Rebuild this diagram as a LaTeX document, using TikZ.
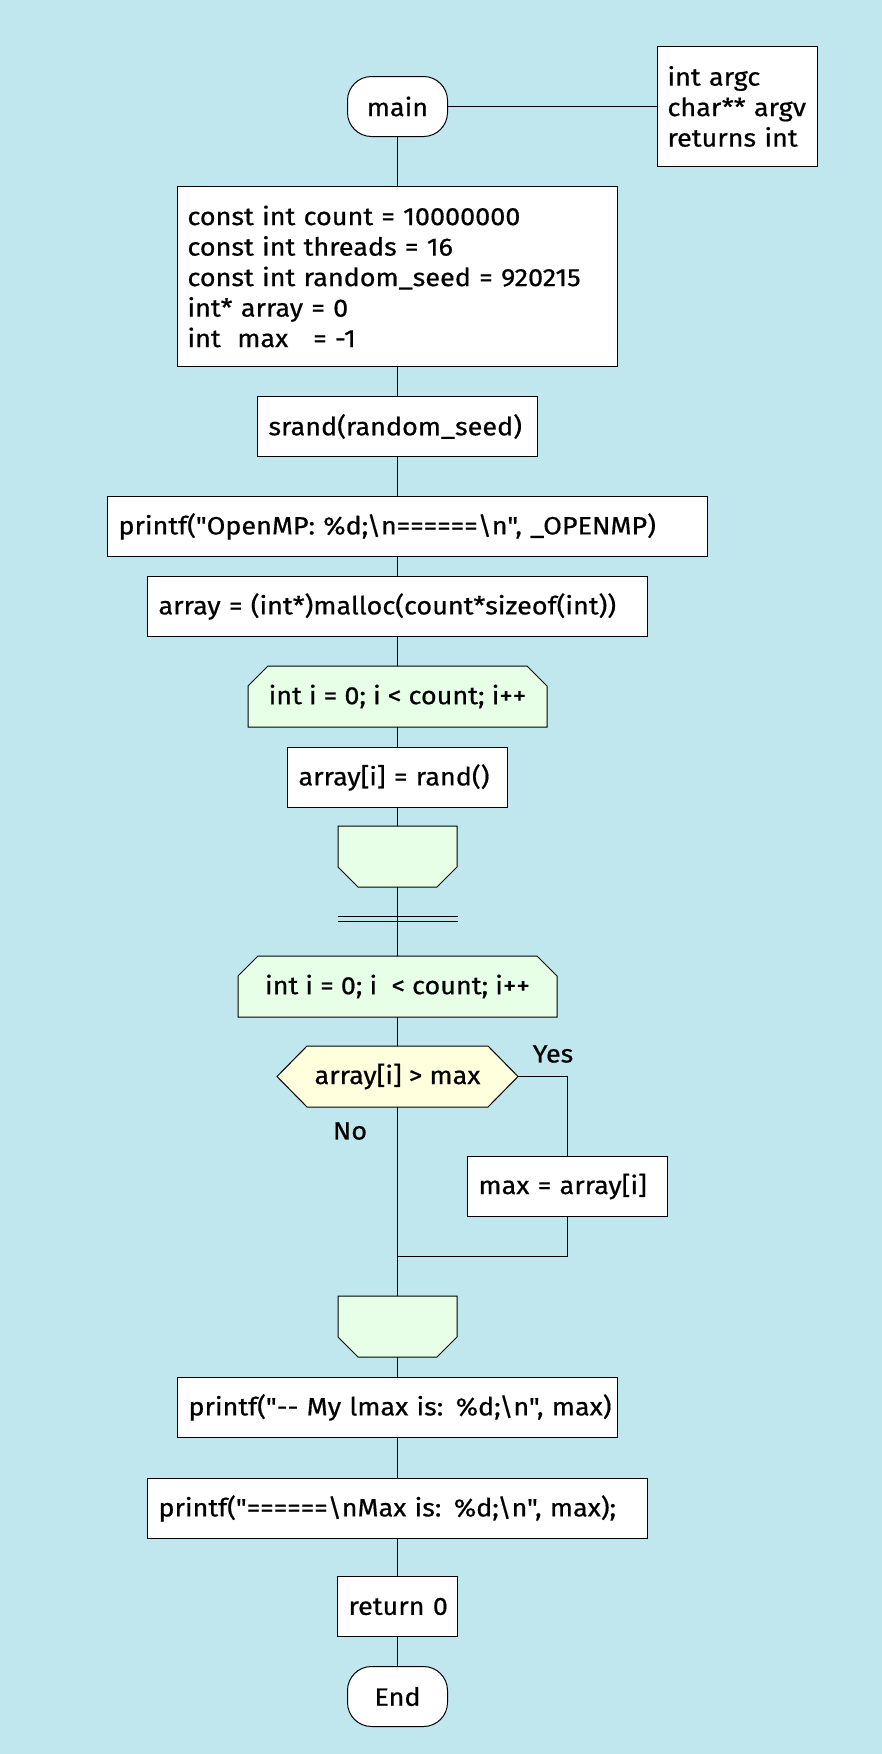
\documentclass[tikz,border=0pt]{standalone}
\usepackage{fontspec}
\setmainfont{Fira Sans}[Ligatures=TeXOff, FakeStretch=1.08, FakeBold=0.6]
\usetikzlibrary{calc, backgrounds}
\definecolor{canvasblue}{RGB}{192,230,238}
\definecolor{loopgreen}{RGB}{230,255,230}
\definecolor{testyellow}{RGB}{255,255,222}

\begin{document}
\begin{tikzpicture}[
    % Global Styles
    x=1pt, y=-1pt,
    font=\fontsize{25}{30.5}\selectfont,
    line width=1pt,
    % Node Styles
    terminal/.style={
        draw,
        fill=white,
        rounded corners=24pt,
        minimum width=100pt,
        minimum height=60pt,
        inner sep=0pt
    },
    process/.style={
        draw,
        fill=white,
        align=left,
        minimum height=60pt,
        inner xsep=11pt,
        inner ysep=0pt,
        execute at begin node=\hbox\bgroup,
        execute at end node=\egroup
    },
    listing/.style={
        draw,
        fill=white,
        align=left,
        inner sep=10pt
    },
    loopbox/.style={
        minimum height=60pt,
        inner sep=0pt
    },
    testbox/.style={
        minimum width=240pt,
        minimum height=60pt,
        inner sep=0pt
    },
    answer/.style={
        inner sep=0pt
    },
    loopshape/.style={
        draw=black,
        line width=1pt,
        fill=loopgreen
    },
    testshape/.style={
        draw=black,
        line width=1pt,
        fill=testyellow
    }
]

    % --- Start ---
    \node[terminal] (main) at (397.5,106.5) {main};
    \node[listing, text width=140pt, minimum height=120pt] (args) at (737.5,106.5) {
        int argc\\
        char** argv\\
        returns int
    };

    % --- Declarations ---
    \node[listing, text width=420pt, minimum height=180pt] (decl) at (397.5,276.5) {
        const int count = 10000000\\
        const int threads = 16\\
        const int random\_seed = 920215\\
        int* array = 0\\
        int\ \ max\ \ \ = -1
    };
    \node[process, text width=258pt] (seed) at (397.5,426.5) {srand(random\_seed)};
    \node[process, text width=578pt] (banner) at (407.5,526.5) {printf("OpenMP: \%d;\textbackslash n======\textbackslash n", \_OPENMP)};
    \node[process, text width=478pt] (alloc) at (397.5,606.5) {array = (int*)malloc(count*sizeof(int))};

    % --- Loop 1: fill the array ---
    \node[loopbox, minimum width=298pt] (fill) at (397.5,696.5) {int i = 0; i < count; i++};
    \node[process, text width=198pt] (setrand) at (397.5,777.5) {array[i] = rand()};
    \node[loopbox, minimum width=118pt] (fillend) at (397.5,856.5) {};

    % --- Loop 2: search the maximum ---
    \node[loopbox, minimum width=318pt] (scan) at (397.5,986.5) {int i = 0; i\ \ < count; i++};
    \node[testbox] (test) at (397.5,1076.5) {array[i] > max};
    \node[answer] (yes) at (553,1054) {Yes};
    \node[answer] (no) at (350,1131) {No};
    \node[process, text width=178pt] (newmax) at (567.5,1186.5) {max = array[i]};
    \coordinate (join) at (397.5,1256.5);
    \node[loopbox, minimum width=118pt] (scanend) at (397.5,1326.5) {};

    % --- Output and end ---
    \node[process, text width=418pt] (local) at (397.5,1407.5) {printf("-{}- My lmax is: \%d;\textbackslash n", max)};
    \node[process, text width=478pt] (total) at (397.5,1508.5) {printf("======\textbackslash nMax is: \%d;\textbackslash n", max);};
    \node[process, text width=98pt] (ret) at (397.5,1606.5) {return 0};
    \node[terminal] (stop) at (397.5,1696.5) {End};

    % --- Shapes behind the texts ---
    \begin{scope}[on background layer]
        \fill[canvasblue] (0,0) rectangle (882,1754);
        \foreach \n in {fill, scan} {
            \filldraw[loopshape] ($(\n.north west)+(20,0)$) -- ($(\n.north east)+(-20,0)$)
                -- ($(\n.north east)+(0,20)$) -- (\n.south east) -- (\n.south west)
                -- ($(\n.north west)+(0,20)$) -- cycle;
        }
        \foreach \n in {fillend, scanend} {
            \filldraw[loopshape] (\n.north west) -- (\n.north east)
                -- ($(\n.south east)+(0,-20)$) -- ($(\n.south east)+(-20,0)$)
                -- ($(\n.south west)+(20,0)$) -- ($(\n.south west)+(0,-20)$) -- cycle;
        }
        \filldraw[testshape] (test.west) -- ($(test.north west)+(30,0)$) -- ($(test.north east)+(-30,0)$)
            -- (test.east) -- ($(test.south east)+(-30,0)$) -- ($(test.south west)+(30,0)$) -- cycle;
    \end{scope}

    % --- Connectors ---
    \draw (main) -- (args);
    \draw (main) -- (decl);
    \draw (decl) -- (seed);
    \draw (seed.south) -- (seed.south |- banner.north);
    \draw (alloc.north |- banner.south) -- (alloc.north);
    \draw (alloc) -- (fill);
    \draw (fill) -- (setrand);
    \draw (setrand) -- (fillend);
    \draw (fillend) -- (scan);
    \draw (337.5,916.5) -- (457.5,916.5);
    \draw (337.5,921.5) -- (457.5,921.5);
    \draw (scan) -- (test);
    \draw (test.east) -| (newmax.north);
    \draw (newmax.south) |- (join);
    \draw (test) -- (scanend);
    \draw (scanend) -- (local);
    \draw (local) -- (total);
    \draw (total) -- (ret);
    \draw (ret) -- (stop);

\end{tikzpicture}
\end{document}
